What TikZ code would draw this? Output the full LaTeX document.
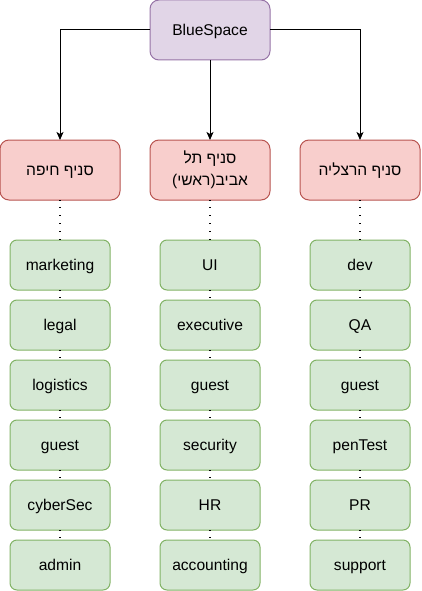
\documentclass[tikz,border=0pt]{standalone}
\usepackage{fontspec}
\setmainfont{Liberation Sans}
\newfontfamily\hebfont[Script=Hebrew]{Liberation Sans}
\TeXXeTstate=1
\usetikzlibrary{arrows.meta,positioning}

\definecolor{purplefill}{HTML}{E1D5E7}
\definecolor{purpleline}{HTML}{9673A6}
\definecolor{redfill}{HTML}{F8CECC}
\definecolor{redline}{HTML}{B85450}
\definecolor{greenfill}{HTML}{D5E8D4}
\definecolor{greenline}{HTML}{82B366}

\begin{document}
\begin{tikzpicture}[x=1pt,y=-1pt,>={Stealth[length=8pt,width=7pt,inset=2pt]},
                    line width=1pt,font=\fontsize{15.6}{22}\selectfont]

  \tikzstyle{onerow}=[text height=11.2pt,text depth=0pt]
  \tikzstyle{company}=[draw=purpleline,fill=purplefill,rounded corners=9pt,outer sep=0pt,onerow,
                       minimum width=120pt,minimum height=60pt,inner sep=0pt]
  \tikzstyle{branch}=[draw=redline,fill=redfill,rounded corners=9pt,align=center,outer sep=0pt,
                      minimum width=120pt,minimum height=60pt,inner sep=0pt]
  \tikzstyle{dept}=[draw=greenline,fill=greenfill,rounded corners=7pt,outer sep=0pt,onerow,
                    minimum width=100pt,minimum height=50pt,inner sep=0pt]
  \tikzstyle{dotline}=[draw=black,line width=1.3pt,dash pattern=on 1.3pt off 6.7pt,
                       dash phase=1pt]

  \useasboundingbox (0,0) rectangle (421,591);

  \node[company]            (BS)  at (210,30)          {BlueSpace};
  \node[branch]             (T)  [below=80pt of BS]    {\hebfont\beginR סניף תל\endR\\\hebfont\beginR אביב(ראשי)\endR};
  \node[branch,onerow]      (H)  [left=30pt of T]      {\hebfont\beginR סניף חיפה\endR};
  \node[branch,onerow]      (Z)  [right=30pt of T]     {\hebfont\beginR סניף הרצליה\endR};

  \node[dept]               (H1) [below=40pt of H]     {marketing};
  \node[dept]               (H2) [below=10pt of H1]    {legal};
  \node[dept]               (H3) [below=10pt of H2]    {logistics};
  \node[dept]               (H4) [below=10pt of H3]    {guest};
  \node[dept]               (H5) [below=10pt of H4]    {cyberSec};
  \node[dept]               (H6) [below=10pt of H5]    {admin};

  \node[dept]               (T1) [below=40pt of T]     {UI};
  \node[dept]               (T2) [below=10pt of T1]    {executive};
  \node[dept]               (T3) [below=10pt of T2]    {guest};
  \node[dept]               (T4) [below=10pt of T3]    {security};
  \node[dept]               (T5) [below=10pt of T4]    {HR};
  \node[dept]               (T6) [below=10pt of T5]    {accounting};

  \node[dept]               (Z1) [below=40pt of Z]     {dev};
  \node[dept]               (Z2) [below=10pt of Z1]    {QA};
  \node[dept]               (Z3) [below=10pt of Z2]    {guest};
  \node[dept]               (Z4) [below=10pt of Z3]    {penTest};
  \node[dept]               (Z5) [below=10pt of Z4]    {PR};
  \node[dept]               (Z6) [below=10pt of Z5]    {support};

  \draw[->] (BS.west) -| (H);
  \draw[->] (BS) -- (T);
  \draw[->] (BS.east) -| (Z);

  \path[dotline] (H) edge (H1)
        (H1) edge (H2)
        (H2) edge (H3)
        (H3) edge (H4)
        (H4) edge (H5)
        (H5) edge (H6)
        (T) edge (T1)
        (T1) edge (T2)
        (T2) edge (T3)
        (T3) edge (T4)
        (T4) edge (T5)
        (T5) edge (T6)
        (Z) edge (Z1)
        (Z1) edge (Z2)
        (Z2) edge (Z3)
        (Z3) edge (Z4)
        (Z4) edge (Z5)
        (Z5) edge (Z6);
\end{tikzpicture}
\end{document}
